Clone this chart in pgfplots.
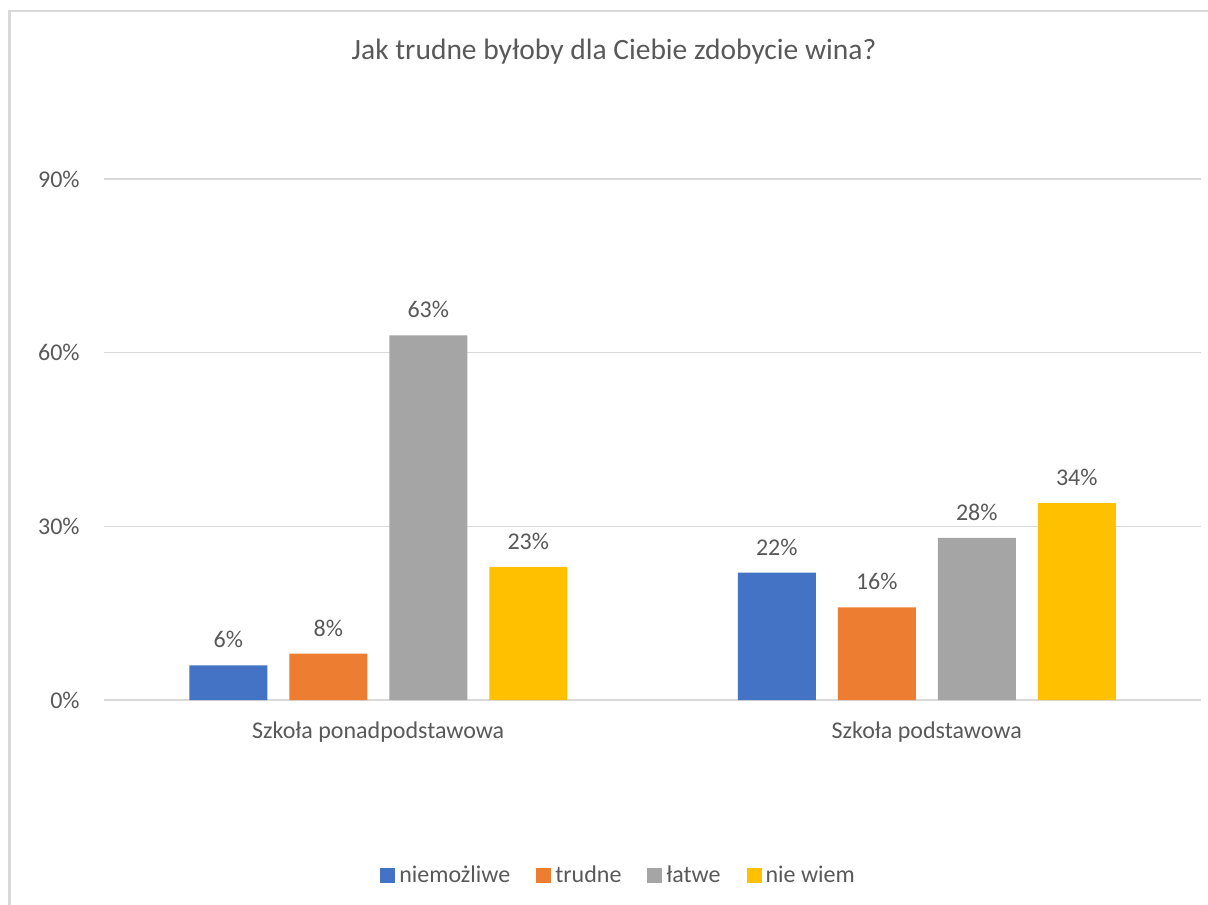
\documentclass[border=0pt]{standalone}
\usepackage{fontspec}
\setmainfont{Carlito}
\usepackage{pgfplots}
\pgfplotsset{compat=1.18}
\definecolor{cblue}{HTML}{4472C4}
\definecolor{corange}{HTML}{ED7D31}
\definecolor{cgray}{HTML}{A5A5A5}
\definecolor{cyellow}{HTML}{FFC000}
\definecolor{txt}{HTML}{595959}
\definecolor{gridc}{HTML}{D9D9D9}
\begin{document}
\begin{tikzpicture}[x=0.5pt,y=0.5pt]
\useasboundingbox (0,0) rectangle (1208,904);
\begin{scope}
\clip (0,0) rectangle (1208,904);
\fill[white] (0,0) rectangle (1208,904);
\draw[color=gridc, line width=1.2pt] (9.5,-20) rectangle (1240,893);
\end{scope}
\node[anchor=base, text=txt, font=\fontsize{14.75}{17}\selectfont, inner sep=0pt] at (614,844) {Jak trudne byłoby dla Ciebie zdobycie wina?};
\begin{axis}[
  at={(52pt,102pt)}, anchor=south west,
  scale only axis, width=548.5pt, height=260.5pt,
  xmin=-0.5, xmax=1.5, ymin=0, ymax=90,
  ybar=11pt, bar width=39pt,
  /pgf/number format/assume math mode=true,
  xtick={0,1}, xticklabels={Szkoła ponadpodstawowa, Szkoła podstawowa},
  ytick={0,30,60,90},
  yticklabel={\pgfmathprintnumber{\tick}\%},
  axis line style={draw=none},
  major tick length=0pt,
  ymajorgrids, grid style={gridc, line width=0.8pt},
  tick label style={text=txt, font=\fontsize{12}{14}\selectfont},
  yticklabel style={anchor=east, inner sep=0pt, xshift=-12pt},
  xticklabel style={anchor=base, inner sep=0pt, yshift=-19pt},
  nodes near coords={\pgfmathprintnumber{\pgfplotspointmeta}\%},
  every node near coord/.append style={text=txt, font=\fontsize{12}{14}\selectfont, inner sep=0pt, anchor=south, yshift=8.5pt},
  legend style={at={(axis description cs:0.4700,-0.3378)}, anchor=center, draw=none, fill=none,
    legend columns=-1, font=\fontsize{12}{14}\selectfont, text=txt,
    /tikz/every even column/.append style={column sep=11pt}},
  legend image code/.code={\fill[#1] (-2.5pt,-3.75pt) rectangle (5pt,3.75pt);},
]
\addplot[fill=cblue, draw=none] coordinates {(0,6) (1,22)};
\addplot[fill=corange, draw=none] coordinates {(0,8) (1,16)};
\addplot[fill=cgray, draw=none] coordinates {(0,63) (1,28)};
\addplot[fill=cyellow, draw=none] coordinates {(0,23) (1,34)};
\legend{niemożliwe, trudne, łatwe, nie wiem}
\end{axis}
\end{tikzpicture}
\end{document}
